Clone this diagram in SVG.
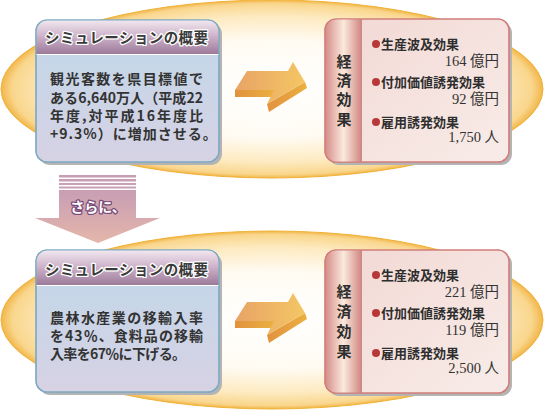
<svg xmlns="http://www.w3.org/2000/svg" width="544" height="411" viewBox="0 0 544 411">
<defs>
<radialGradient id="ell" cx="0.5" cy="0.5" r="0.5">
<stop offset="0" stop-color="#ffffff"/>
<stop offset="0.55" stop-color="#fffbf2"/>
<stop offset="0.82" stop-color="#fdeac0"/>
<stop offset="0.96" stop-color="#f9d68c"/>
<stop offset="1" stop-color="#f2b64a"/>
</radialGradient>
<linearGradient id="hdr" x1="0" y1="0" x2="0" y2="1">
<stop offset="0" stop-color="#f2e8f0"/>
<stop offset="0.5" stop-color="#cbb0c8"/>
<stop offset="1" stop-color="#9c7a9a"/>
</linearGradient>
<linearGradient id="bdy" x1="0" y1="0" x2="0" y2="1">
<stop offset="0" stop-color="#c0d8ea"/>
<stop offset="1" stop-color="#d6d2e4"/>
</linearGradient>
<linearGradient id="pnk" x1="0" y1="0" x2="1" y2="1">
<stop offset="0" stop-color="#f2d8d4"/>
<stop offset="1" stop-color="#f8ece8"/>
</linearGradient>
<linearGradient id="strip" x1="0" y1="0" x2="1" y2="0">
<stop offset="0" stop-color="#d48a88"/>
<stop offset="0.5" stop-color="#fbeadc"/>
<stop offset="1" stop-color="#cf8480"/>
</linearGradient>
<linearGradient id="arrTop" x1="0" y1="0" x2="1" y2="0">
<stop offset="0" stop-color="#e8a466"/>
<stop offset="1" stop-color="#f4c664"/>
</linearGradient>
<linearGradient id="arrSide" x1="0" y1="0" x2="1" y2="0">
<stop offset="0" stop-color="#e2923e"/>
<stop offset="1" stop-color="#eab040"/>
</linearGradient>
<linearGradient id="down" x1="0" y1="0" x2="0" y2="1">
<stop offset="0" stop-color="#c89eb4"/>
<stop offset="1" stop-color="#e4b6aa"/>
</linearGradient>
<clipPath id="clipL"><rect x="36" y="20" width="183" height="142" rx="11"/></clipPath>
<clipPath id="clipR"><rect x="325" y="19" width="184" height="143" rx="11"/></clipPath>
</defs>
<style>
.ell{fill:url(#ell);stroke:#f0b236;stroke-width:1}
.shadow{fill:#b4b4b4}
.lbox{fill:url(#bdy);stroke:#7eaac2;stroke-width:1.2}
.hdrtxt{font-family:"Noto Sans CJK JP",sans-serif;font-weight:bold;font-size:14.5px;fill:#3a3a3a;stroke:#ffffff;stroke-width:2.5;paint-order:stroke;stroke-linejoin:round}
.body{font-family:"Noto Sans CJK JP",sans-serif;font-weight:bold;font-size:14px;fill:#333333}
.rbox{fill:url(#pnk);stroke:#d27e7a;stroke-width:1.2}
.vt{font-family:"Noto Sans CJK JP",sans-serif;font-weight:bold;font-size:15px;fill:#2e2e2e;text-anchor:middle}
.item{font-family:"Noto Sans CJK JP",sans-serif;font-weight:bold;font-size:13px;fill:#2e2e2e}
.dot{fill:#b83838}
.num{font-family:"Liberation Serif","Noto Sans CJK JP",serif;font-size:14.5px;fill:#333333;text-anchor:end}
.sar{font-family:"Noto Sans CJK JP",sans-serif;font-weight:bold;font-size:14px;fill:#ffffff;stroke:#7a4a78;stroke-width:2.5;paint-order:stroke;stroke-linejoin:round;text-anchor:middle}
</style>

<g id="bg">
<ellipse class="ell" cx="272" cy="89" rx="271" ry="89"/>
<ellipse class="ell" cx="272" cy="320" rx="271" ry="89"/>
</g>

<g id="connectors">
<g id="arrow-top">
<polygon fill="url(#arrSide)" points="235,90 274,90 274,97 235,97"/>
<polygon fill="url(#arrSide)" points="305,82 307,88 269,112 267,104"/>
<polygon fill="url(#arrTop)" points="235,90 247,71 288,71 293,62 305,82 267,104 274,90"/>
</g>
<g id="arrow-bottom" transform="translate(0,231)">
<polygon fill="url(#arrSide)" points="235,90 274,90 274,97 235,97"/>
<polygon fill="url(#arrSide)" points="305,82 307,88 269,112 267,104"/>
<polygon fill="url(#arrTop)" points="235,90 247,71 288,71 293,62 305,82 267,104 274,90"/>
</g>
<g id="arrow-down">
<rect x="59" y="175" width="77" height="2.5" fill="#c89eb4"/>
<rect x="59" y="179" width="77" height="2.5" fill="#c89eb4"/>
<rect x="59" y="183" width="77" height="2" fill="#c9a0b4"/>
<rect x="59" y="186.5" width="77" height="2" fill="#caa0b4"/>
<polygon fill="url(#down)" points="59,190 136,190 136,218 160,218 98,243 35,218 59,218"/>
<text class="sar" x="98" y="212">さらに、</text>
</g>
</g>

<g id="sim1">
<rect class="shadow" x="39" y="23" width="183" height="142" rx="11"/>
<rect class="lbox" x="36" y="20" width="183" height="142" rx="11"/>
<rect x="36" y="20" width="183" height="34" fill="url(#hdr)" clip-path="url(#clipL)"/>
<line x1="36" y1="54.5" x2="219" y2="54.5" stroke="#ffffff" stroke-width="1"/>
<rect x="36" y="20" width="183" height="142" rx="11" fill="none" stroke="#7eaac2" stroke-width="1.2"/>
<text class="hdrtxt" x="45" y="43" textLength="163" lengthAdjust="spacing">シミュレーションの概要</text>
<text class="body" x="50" y="84" textLength="153" lengthAdjust="spacing">観光客数を県目標値で</text>
<text class="body" x="50" y="103" textLength="153" lengthAdjust="spacing">ある6,640万人（平成22</text>
<text class="body" x="50" y="121" textLength="153" lengthAdjust="spacing">年度,対平成16年度比</text>
<text class="body" x="50" y="139" letter-spacing="1">+9.3%）に増加させる。</text>
</g>

<g id="effect1">
<rect class="shadow" x="328" y="22" width="184" height="143" rx="11"/>
<rect class="rbox" x="325" y="19" width="184" height="143" rx="11"/>
<rect x="325" y="19" width="37" height="143" fill="url(#strip)" clip-path="url(#clipR)"/>
<rect x="325" y="19" width="184" height="143" rx="11" fill="none" stroke="#d27e7a" stroke-width="1.2"/>
<text class="vt" x="344" y="67">経</text>
<text class="vt" x="344" y="86">済</text>
<text class="vt" x="344" y="105">効</text>
<text class="vt" x="344" y="125">果</text>
<circle class="dot" cx="376" cy="44" r="4"/>
<text class="item" x="381" y="49">生産波及効果</text>
<text class="num" x="499" y="66">164 億円</text>
<circle class="dot" cx="376" cy="82" r="4"/>
<text class="item" x="381" y="87">付加価値誘発効果</text>
<text class="num" x="499" y="104">92 億円</text>
<circle class="dot" cx="376" cy="122" r="4"/>
<text class="item" x="381" y="127">雇用誘発効果</text>
<text class="num" x="499" y="142">1,750 人</text>
</g>

<g id="sim2">
<rect class="shadow" x="39" y="253" width="183" height="142" rx="11"/>
<rect class="lbox" x="36" y="250" width="183" height="142" rx="11"/>
<g clip-path="url(#clipL)" transform="translate(0,230)"><rect x="36" y="20" width="183" height="35" fill="url(#hdr)"/></g>
<line x1="36" y1="285.5" x2="219" y2="285.5" stroke="#ffffff" stroke-width="1"/>
<rect x="36" y="250" width="183" height="142" rx="11" fill="none" stroke="#7eaac2" stroke-width="1.2"/>
<text class="hdrtxt" x="45" y="275" textLength="163" lengthAdjust="spacing">シミュレーションの概要</text>
<text class="body" x="50" y="323" textLength="153" lengthAdjust="spacing">農林水産業の移輸入率</text>
<text class="body" x="50" y="341" textLength="153" lengthAdjust="spacing">を43％、食料品の移輸</text>
<text class="body" x="50" y="359" textLength="136" lengthAdjust="spacing">入率を67％に下げる。</text>
</g>

<g id="effect2">
<rect class="shadow" x="328" y="253" width="184" height="143" rx="11"/>
<rect class="rbox" x="325" y="250" width="184" height="143" rx="11"/>
<g clip-path="url(#clipR)" transform="translate(0,231)"><rect x="325" y="19" width="37" height="143" fill="url(#strip)"/></g>
<rect x="325" y="250" width="184" height="143" rx="11" fill="none" stroke="#d27e7a" stroke-width="1.2"/>
<text class="vt" x="344" y="297">経</text>
<text class="vt" x="344" y="317">済</text>
<text class="vt" x="344" y="337">効</text>
<text class="vt" x="344" y="357">果</text>
<circle class="dot" cx="376" cy="275" r="4"/>
<text class="item" x="381" y="280">生産波及効果</text>
<text class="num" x="499" y="297">221 億円</text>
<circle class="dot" cx="376" cy="313" r="4"/>
<text class="item" x="381" y="318">付加価値誘発効果</text>
<text class="num" x="499" y="335">119 億円</text>
<circle class="dot" cx="376" cy="353" r="4"/>
<text class="item" x="381" y="358">雇用誘発効果</text>
<text class="num" x="499" y="373">2,500 人</text>
</g>
</svg>
